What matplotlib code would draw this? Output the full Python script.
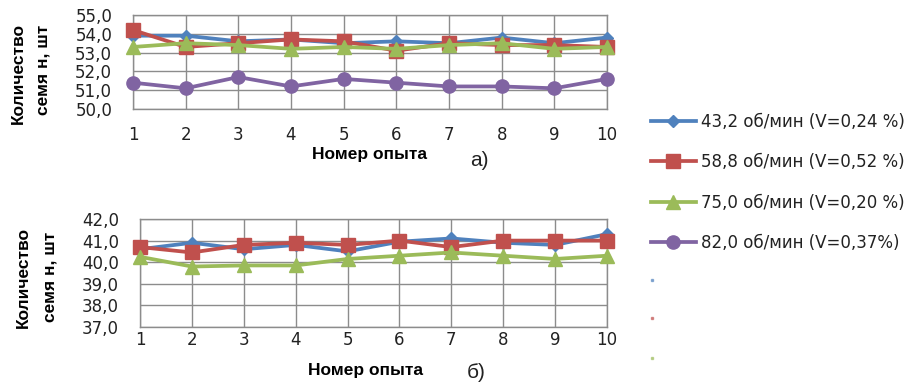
import matplotlib
matplotlib.use("Agg")
import matplotlib.pyplot as plt
from matplotlib.lines import Line2D
from matplotlib.ticker import FuncFormatter

W, H = 919, 385

experiments = list(range(1, 11))

# chart a) - seeds count per experiment
a_432 = [53.9, 53.9, 53.6, 53.7, 53.5, 53.6, 53.5, 53.8, 53.5, 53.8]
a_588 = [54.2, 53.3, 53.5, 53.7, 53.6, 53.1, 53.5, 53.4, 53.4, 53.3]
a_750 = [53.3, 53.5, 53.4, 53.2, 53.3, 53.2, 53.4, 53.5, 53.2, 53.3]
a_820 = [51.4, 51.1, 51.7, 51.2, 51.6, 51.4, 51.2, 51.2, 51.1, 51.6]

# chart б)
b_432 = [40.6, 40.9, 40.6, 40.8, 40.5, 40.95, 41.1, 40.9, 40.8, 41.3]
b_588 = [40.7, 40.45, 40.8, 40.9, 40.8, 41.0, 40.7, 41.0, 41.0, 41.0]
b_750 = [40.25, 39.8, 39.85, 39.85, 40.15, 40.3, 40.45, 40.3, 40.15, 40.3]

labels = ["43,2 об/мин (V=0,24 %)", "58,8 об/мин (V=0,52 %)",
          "75,0 об/мин (V=0,20 %)", "82,0 об/мин (V=0,37%)"]
colors = ["#4F81BD", "#C0504D", "#9BBB59", "#8064A2"]
markers = ["D", "s", "^", "o"]
msizes = [6.5, 9.5, 10, 9.5]

plt.rcParams['font.family'] = ['DejaVu Sans']
fig = plt.figure(figsize=(W / 100, H / 100), dpi=100)


def box(l, t, r, b):
    return [l / W, 1 - b / H, (r - l) / W, (b - t) / H]


def style(ax, ymin, ymax, xpad):
    ax.set_xlim(1, 10)
    ax.set_ylim(ymin, ymax)
    ax.set_xticks(experiments)
    ax.set_yticks(range(ymin, ymax + 1))
    ax.yaxis.set_major_formatter(FuncFormatter(lambda v, p: f"{v:.1f}".replace(".", ",")))
    ax.grid(True, color="#8c8c8c", linewidth=1.0)
    ax.set_axisbelow(True)
    for s in ax.spines.values():
        s.set_color("#8c8c8c")
        s.set_linewidth(1.0)
    ax.tick_params(axis="y", length=0, pad=15, labelsize=12, labelcolor="#222222")
    ax.tick_params(axis="x", length=0, pad=xpad, labelsize=12, labelcolor="#222222")


ax1 = fig.add_axes(box(133, 15, 607, 109))
ax2 = fig.add_axes(box(140, 219, 607, 327))

handles = []
for ys, c, m, ms, lab in zip([a_432, a_588, a_750, a_820], colors, markers, msizes, labels):
    h, = ax1.plot(experiments, ys, color=c, marker=m, markersize=ms, linewidth=2.7,
                  label=lab, clip_on=False, zorder=3)
    handles.append(h)
for ys, c, m, ms in zip([b_432, b_588, b_750], colors, markers, msizes):
    ax2.plot(experiments, ys, color=c, marker=m, markersize=ms, linewidth=2.7,
             clip_on=False, zorder=3)

style(ax1, 50, 55, 12)
style(ax2, 37, 42, 3)

lab_font = dict(family="Liberation Sans", fontweight="bold", fontsize=12.5)
fig.text(18 / W, 1 - 74 / H, "Количество", rotation=90, ha="center", va="center", **lab_font)
fig.text(43 / W, 1 - 25 / H, "семя н, шт", rotation=90, ha="center", va="top", **lab_font)
fig.text(23 / W, 1 - 277 / H, "Количество", rotation=90, ha="center", va="center", **lab_font)
fig.text(50 / W, 1 - 277 / H, "семя н, шт", rotation=90, ha="center", va="center", **lab_font)

fig.text(370 / W, 1 - 155 / H, "Номер опыта", ha="center", va="center", **lab_font)
fig.text(365 / W, 1 - 371 / H, "Номер опыта", ha="center", va="center", **lab_font)
fig.text(479 / W, 1 - 160 / H, "а)", ha="center", va="center", fontsize=15,
         family="Liberation Sans", color="#222222")
fig.text(476 / W, 1 - 373 / H, "б)", ha="center", va="center", fontsize=15,
         family="Liberation Sans", color="#222222")

fig.legend(handles=handles, loc="upper left", bbox_to_anchor=(644 / W, 1 - 106 / H),
           frameon=False, fontsize=12, handlelength=2.7, handletextpad=0.3,
           labelspacing=1.35, borderaxespad=0, labelcolor="#222222")

# three empty legend entries (tiny dots)
for y, c in zip([280, 318, 358], colors[:3]):
    fig.add_artist(Line2D([652 / W], [1 - y / H], transform=fig.transFigure,
                          marker="s", markersize=1.5, color=c, alpha=0.6, linestyle="none"))

fig.savefig("out.png", dpi=100)
